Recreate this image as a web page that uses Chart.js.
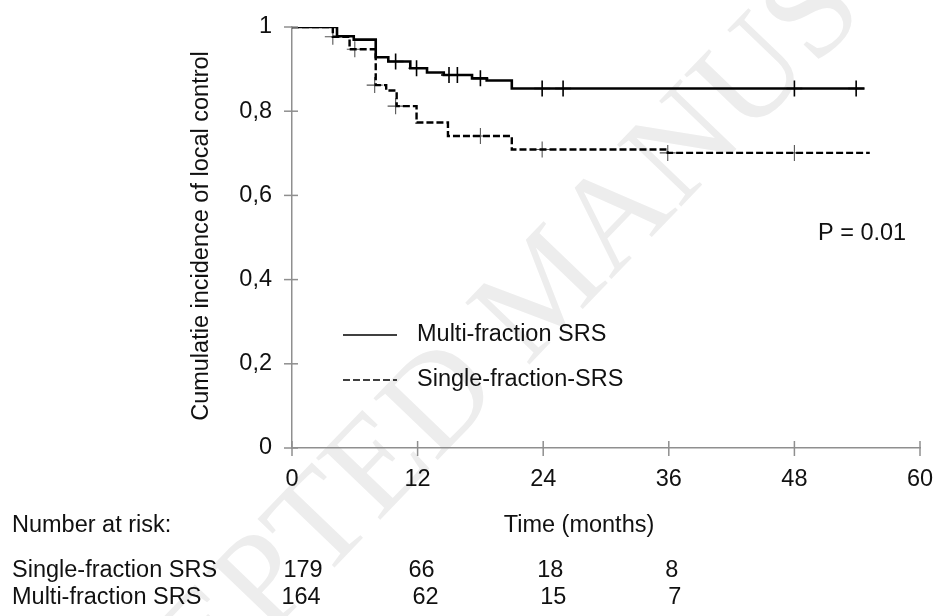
<!DOCTYPE html>
<html lang="en">
<head>
<meta charset="UTF-8">
<title>Cumulatie incidence of local control</title>
<script src="https://cdn.jsdelivr.net/npm/chart.js"></script>
<style>
  html, body { margin: 0; padding: 0; background: #fff; }
  #chart { display: block; }
</style>
</head>
<body>
<canvas id="chart" width="936" height="616"></canvas>
<script>
// step curves: time (months) and value after the step
const multiTimes  = [0, 4.3, 5.9, 8.0, 9.2, 11.3, 12.9, 14.5, 17.2, 18.6, 21.0, 54.7];
const multiValues = [1, 0.978, 0.970, 0.928, 0.918, 0.902, 0.892, 0.886, 0.878, 0.873, 0.854, 0.854];
const multiCensorTimes  = [9.9, 11.9, 15.0, 15.8, 18.0, 23.9, 25.9, 48.0, 53.9];
const multiCensorValues = [0.918, 0.902, 0.886, 0.886, 0.878, 0.854, 0.854, 0.854, 0.854];

const singleTimes  = [0, 3.9, 5.5, 8.0, 9.0, 10.0, 11.9, 14.9, 21.0, 35.9, 55.2];
const singleValues = [1, 0.977, 0.947, 0.862, 0.849, 0.812, 0.773, 0.741, 0.709, 0.701, 0.701];
const singleCensorTimes  = [3.9, 6.0, 7.9, 9.9, 18.0, 23.9, 35.9, 48.0];
const singleCensorValues = [0.977, 0.947, 0.862, 0.812, 0.741, 0.709, 0.701, 0.701];

const xTicks = [0, 12, 24, 36, 48, 60];
const yTicks = [0, 0.2, 0.4, 0.6, 0.8, 1];
const yTickLabels = ['0', '0,2', '0,4', '0,6', '0,8', '1'];

const riskTimes = [0, 12, 24, 36];
const riskSingle = [179, 66, 18, 8];
const riskMulti = [164, 62, 15, 7];

const FONT = "'Liberation Sans', Arial, sans-serif";
const FONT_SIZE = 23.5;
const AXIS_COLOR = '#8f8f8f';
const TEXT_COLOR = '#111';

function pts(xs, ys) {
  return xs.map((x, i) => ({ x: x, y: ys[i] }));
}

const watermark = {
  id: 'watermark',
  beforeDraw(chart) {
    const ctx = chart.ctx;
    ctx.save();
    ctx.font = "136px 'Liberation Serif', 'Times New Roman', serif";
    const pre = ctx.measureText('ACCE').width + ctx.measureText('P').width / 2;
    ctx.translate(268, 585);
    ctx.rotate(-Math.PI / 4 - 0.02);
    ctx.fillStyle = '#ededed';
    ctx.textBaseline = 'middle';
    ctx.fillText('ACCEPTED MANUSCRIPT', -pre, 0);
    ctx.restore();
  }
};

const extras = {
  id: 'extras',
  afterDraw(chart) {
    const ctx = chart.ctx;
    const xs = chart.scales.x, ys = chart.scales.y;
    const area = chart.chartArea;
    ctx.save();

    // ticks crossing the axes
    ctx.strokeStyle = AXIS_COLOR;
    ctx.lineWidth = 1.5;
    xTicks.forEach(v => {
      const px = xs.getPixelForValue(v);
      ctx.beginPath();
      ctx.moveTo(px, area.bottom - 7);
      ctx.lineTo(px, area.bottom + 8);
      ctx.stroke();
    });
    yTicks.forEach(v => {
      const py = ys.getPixelForValue(v);
      ctx.beginPath();
      ctx.moveTo(area.left - 8, py);
      ctx.lineTo(area.left + 6, py);
      ctx.stroke();
    });

    ctx.fillStyle = TEXT_COLOR;
    ctx.font = FONT_SIZE + 'px ' + FONT;
    ctx.textBaseline = 'middle';

    // axis titles
    ctx.textAlign = 'center';
    ctx.fillText('Time (months)', 579, 526);
    ctx.save();
    ctx.translate(202, 236);
    ctx.rotate(-Math.PI / 2);
    ctx.fillText('Cumulatie incidence of local control', 0, 0);
    ctx.restore();

    // p value
    ctx.textAlign = 'left';
    ctx.fillText('P = 0.01', 818, 234);

    // legend
    ctx.strokeStyle = '#000';
    ctx.lineWidth = 1.5;
    ctx.beginPath();
    ctx.moveTo(343, 335);
    ctx.lineTo(397, 335);
    ctx.stroke();
    ctx.setLineDash([7, 3]);
    ctx.beginPath();
    ctx.moveTo(343, 380);
    ctx.lineTo(397, 380);
    ctx.stroke();
    ctx.setLineDash([]);
    ctx.fillText('Multi-fraction SRS', 417, 335);
    ctx.fillText('Single-fraction-SRS', 417, 380);

    // number at risk
    ctx.fillText('Number at risk:', 12, 526);
    ctx.fillText('Single-fraction SRS', 12, 571);
    ctx.fillText('Multi-fraction SRS', 12, 598);
    ctx.textAlign = 'center';
    const colShift = [11, 4, 7, 3];
    const rowShift = [-2, 4, 3, 3];
    riskTimes.forEach((t, i) => {
      const px = xs.getPixelForValue(t) + colShift[i];
      ctx.fillText(String(riskSingle[i]), px, 571);
      ctx.fillText(String(riskMulti[i]), px + rowShift[i], 598);
    });
    ctx.restore();
  }
};

const ctx = document.getElementById('chart').getContext('2d');
new Chart(ctx, {
  type: 'line',
  data: {
    datasets: [
      {
        label: 'Multi-fraction SRS',
        data: pts(multiTimes, multiValues),
        stepped: 'before',
        borderColor: '#000',
        borderWidth: 2.6,
        pointRadius: 0,
        fill: false
      },
      {
        label: 'Single-fraction-SRS',
        data: pts(singleTimes, singleValues),
        stepped: 'before',
        borderColor: '#000',
        borderWidth: 2.4,
        borderDash: [7, 3],
        pointRadius: 0,
        fill: false
      },
      {
        type: 'scatter',
        data: pts(multiCensorTimes, multiCensorValues),
        pointStyle: 'cross',
        pointRadius: 8,
        borderColor: '#000',
        borderWidth: 1.6
      },
      {
        type: 'scatter',
        data: pts(singleCensorTimes, singleCensorValues),
        pointStyle: 'cross',
        pointRadius: 8,
        borderColor: '#555',
        borderWidth: 1.1
      }
    ]
  },
  options: {
    responsive: false,
    animation: false,
    layout: { padding: { left: 0, right: 16, top: 27, bottom: 128 } },
    plugins: { legend: { display: false }, tooltip: { enabled: false } },
    scales: {
      x: {
        type: 'linear',
        min: 0,
        max: 60,
        afterBuildTicks: s => { s.ticks = xTicks.map(v => ({ value: v })); },
        afterFit: s => { s.height = 40; s.paddingLeft = 0; s.paddingRight = 0; },
        grid: { display: false, drawTicks: false },
        border: { color: AXIS_COLOR, width: 1.5 },
        ticks: { color: TEXT_COLOR, font: { family: FONT, size: FONT_SIZE }, padding: 17, maxRotation: 0 }
      },
      y: {
        min: 0,
        max: 1,
        afterBuildTicks: s => { s.ticks = yTicks.map(v => ({ value: v })); },
        afterFit: s => { s.width = 292; s.paddingTop = 0; s.paddingBottom = 0; },
        grid: { display: false, drawTicks: false },
        border: { color: AXIS_COLOR, width: 1.5 },
        ticks: {
          color: TEXT_COLOR,
          font: { family: FONT, size: FONT_SIZE },
          padding: 20,
          callback: (v, i) => yTickLabels[i]
        }
      }
    }
  },
  plugins: [watermark, extras]
});
</script>
</body>
</html>
